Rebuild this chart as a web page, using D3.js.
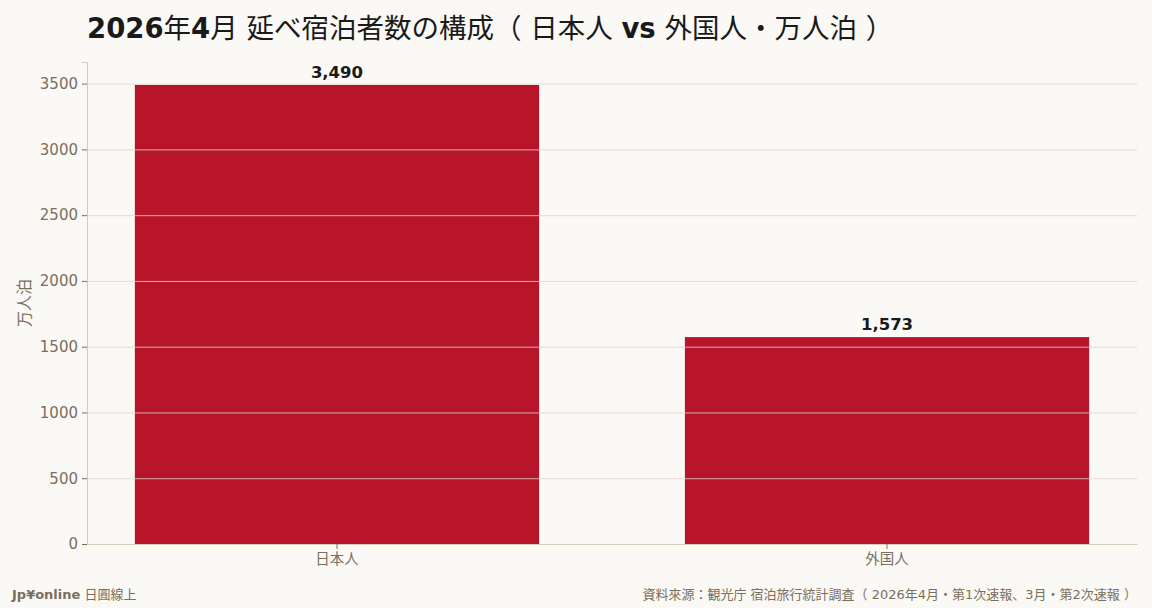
<!DOCTYPE html>
<html>
<head>
<meta charset="utf-8">
<script src="https://cdn.jsdelivr.net/npm/d3@7"></script>
<style>
  html, body { margin: 0; padding: 0; background: #faf9f5; }
  svg { display: block; font-family: "DejaVu Sans", "Noto Sans CJK JP", sans-serif; }
</style>
</head>
<body>
<div id="viz_container"></div>
<script>
// data
const categories = ["日本人", "外国人"];
const values = [3490, 1573];
const yTicks = [0, 500, 1000, 1500, 2000, 2500, 3000, 3500];

const width = 1152, height = 608;
const margin = { top: 62, right: 15, bottom: 64, left: 87 };

const svg = d3.select("#viz_container")
  .append("svg")
    .attr("width", width)
    .attr("height", height);

svg.append("rect")
  .attr("width", width)
  .attr("height", height)
  .attr("fill", "#faf9f5");

const plotW = width - margin.left - margin.right;
const plotH = height - margin.top - margin.bottom;

const g = svg.append("g")
  .attr("transform", `translate(${margin.left}, ${margin.top})`);

// scales
const xScale = d3.scaleBand()
  .domain(categories)
  .range([0, plotW])
  .paddingInner(0.265)
  .paddingOuter(0.087);

const yScale = d3.scaleLinear()
  .domain([0, d3.max(values) * 1.05])
  .range([plotH, 0]);

// bars
g.selectAll(".bar")
  .data(values)
  .join("rect")
    .attr("class", "bar")
    .attr("x", (d, i) => xScale(categories[i]))
    .attr("y", d => yScale(d))
    .attr("width", xScale.bandwidth())
    .attr("height", d => plotH - yScale(d))
    .attr("fill", "#b8152b");

// grid lines on top of bars
g.append("g")
  .selectAll("line")
  .data(yTicks.filter(t => t > 0))
  .join("line")
    .attr("x1", 0)
    .attr("x2", plotW)
    .attr("y1", d => yScale(d) + 0.5)
    .attr("y2", d => yScale(d) + 0.5)
    .attr("stroke", "#ddd7cb")
    .attr("stroke-opacity", 0.8)
    .attr("stroke-width", 1);

// value labels
g.selectAll(".val")
  .data(values)
  .join("text")
    .attr("class", "val")
    .attr("x", (d, i) => xScale(categories[i]) + xScale.bandwidth() / 2)
    .attr("y", d => yScale(d) - 7)
    .attr("text-anchor", "middle")
    .attr("font-size", 16.5)
    .attr("font-weight", "bold")
    .attr("fill", "#1a1a1a")
    .text(d => d3.format(",")(d));

// axes
const axisColor = "#d3ccbc";
const tickText = "#7a6e5d";

const yAxis = g.append("g")
  .call(d3.axisLeft(yScale).tickValues(yTicks).tickSize(5).tickPadding(4).tickFormat(d3.format("d")));
yAxis.select(".domain").attr("stroke", axisColor);
yAxis.selectAll(".tick line").attr("stroke", tickText);
yAxis.selectAll(".tick text")
  .attr("fill", tickText)
  .style("font-size", "15px")
  .style("font-family", "DejaVu Sans");

const xAxis = g.append("g")
  .attr("transform", `translate(0, ${plotH})`)
  .call(d3.axisBottom(xScale).tickSize(5).tickPadding(5).tickSizeOuter(0));
xAxis.select(".domain").attr("stroke", axisColor);
xAxis.selectAll(".tick line").attr("stroke", tickText);
xAxis.selectAll(".tick text")
  .attr("fill", tickText)
  .style("font-size", "14.5px")
  .style("font-family", "DejaVu Sans, Noto Sans CJK JP");

// y label
svg.append("text")
  .attr("transform", `translate(30, ${margin.top + plotH / 2}) rotate(-90)`)
  .attr("text-anchor", "middle")
  .style("font-size", "16px")
  .attr("fill", tickText)
  .text("万人泊");

// title: latin parts bold, CJK parts regular
const titleParts = [
  ["2026", true], ["年", false], ["4", true],
  ["月 延べ宿泊者数の構成（ 日本人 ", false], ["vs", true],
  [" 外国人・万人泊 ）", false]
];
const title = svg.append("text")
  .attr("x", 87)
  .attr("y", 38)
  .style("font-size", "27.5px")
  .attr("fill", "#1a1a1a")
  .attr("xml:space", "preserve");
titleParts.forEach(([t, b]) => {
  title.append("tspan").attr("font-weight", b ? "bold" : "normal").text(t);
});

// footer
const foot = svg.append("text")
  .attr("x", 12)
  .attr("y", 599)
  .style("font-size", "13px")
  .attr("fill", "#7a6e5d");
foot.append("tspan").attr("font-weight", "bold").text("Jp¥online");
foot.append("tspan").text(" 日圓線上");

svg.append("text")
  .attr("x", 1137)
  .attr("y", 599)
  .attr("text-anchor", "end")
  .style("font-size", "13px")
  .attr("fill", "#7a6e5d")
  .text("資料來源：観光庁 宿泊旅行統計調査（ 2026年4月・第1次速報、3月・第2次速報 ）");
</script>
</body>
</html>
